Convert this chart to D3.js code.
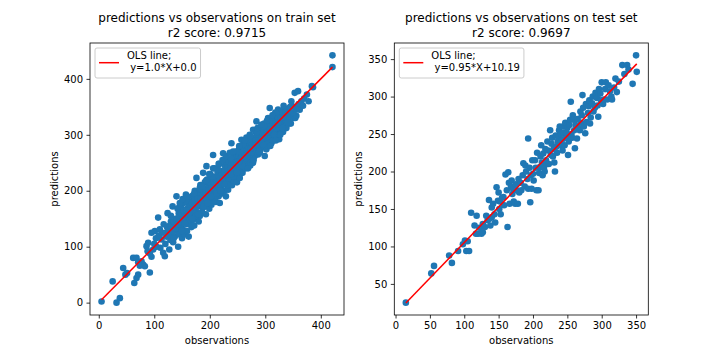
<!DOCTYPE html>
<html><head><meta charset="utf-8">
<script src="https://cdn.jsdelivr.net/npm/d3@7"></script>
<style>body{margin:0;background:#fff} text{font-family:"DejaVu Sans",sans-serif}</style>
</head><body><svg id="c" width="720" height="360"></svg>
<script>
// [observation, prediction]
const trainPoints = [
[5,2],[32,0],[38,8],[25,38],[44,62],[48,50],[51,53],[64,35],[68,44],[71,50],[62,80],[68,80],[77,74],[80,68],[83,65],[71,72],[74,66],[92,54],[86,101],[89,107],[98,95],[95,82],[95,125],[101,128],[107,152],[110,131],[113,113],[116,89],[119,83],[100,105],[104,100],[92,88],[88,92],[103,115],[108,120],[111,98],[114,125],[117,140],[120,105],[122,118],[124,160],[125,130],[127,95],[129,112],[130,145],[131,124],[133,172],[134,108],[136,138],[137,118],[139,150],[140,190],[141,128],[143,100],[144,160],[145,122],[146,140],[148,135],[149,170],[150,115],[151,152],[152,130],[153,178],[154,145],[155,122],[156,160],[157,193],[158,140],[159,128],[160,168],[161,150],[162,118],[163,182],[164,140],[165,155],[166,172],[167,135],[168,190],[169,160],[170,148],[171,178],[172,138],[173,200],[174,165],[175,152],[176,223],[177,185],[178,160],[179,172],[180,145],[181,198],[182,155],[183,210],[184,178],[185,190],[186,162],[187,170],[188,232],[189,200],[190,185],[191,215],[192,175],[193,158],[194,244],[195,205],[196,192],[197,180],[198,220],[199,168],[200,196],[200,210],[201,230],[202,185],[203,175],[204,215],[205,200],[206,264],[207,225],[208,188],[209,240],[210,205],[211,180],[212,218],[213,198],[214,232],[215,210],[216,190],[217,248],[218,178],[219,222],[220,205],[221,235],[222,195],[223,215],[224,267],[225,228],[226,200],[227,245],[228,212],[229,190],[230,238],[231,220],[232,205],[233,202],[234,255],[235,230],[236,215],[237,240],[238,225],[239,285],[240,210],[241,250],[242,232],[243,218],[244,262],[245,240],[246,225],[247,270],[248,235],[249,215],[250,255],[251,245],[252,228],[253,275],[254,223],[255,260],[256,240],[257,291],[258,250],[259,232],[260,270],[261,255],[262,240],[263,280],[264,265],[265,245],[266,295],[267,258],[268,275],[269,250],[270,285],[271,262],[272,300],[273,245],[274,270],[275,290],[276,258],[277,280],[278,250],[278,309],[279,268],[280,295],[281,262],[282,285],[283,305],[284,324],[285,270],[286,290],[287,265],[288,300],[289,280],[290,310],[291,272],[292,295],[293,285],[294,318],[295,278],[296,300],[297,290],[298,320],[299,282],[300,305],[301,295],[302,274],[303,315],[304,300],[305,330],[306,290],[307,310],[308,348],[309,300],[310,325],[311,285],[312,315],[313,305],[314,335],[315,295],[316,320],[317,310],[318,340],[319,300],[320,328],[321,315],[322,305],[323,345],[324,320],[325,292],[326,330],[327,310],[328,338],[329,318],[330,342],[331,322],[332,305],[333,335],[334,325],[335,345],[336,315],[337,330],[338,312],[340,338],[342,325],[344,335],[346,320],[347,360],[349,340],[351,330],[353,375],[354,330],[356,334],[357,350],[359,378],[360,355],[362,345],[365,360],[368,352],[370,365],[375,372],[378,360],[384,387],[386,385],[421,442],[421,421],
[120.5,125],[123,135],[126,120],[128,138],[131,135],[133,128],[135,145],[138,132],[140,150],[142,140],[145,152],[147,145],[150,158],[152,148],[155,165],[157,150],[160,158],[162,170],[165,162],[167,175],[170,165],[172,180],[175,170],[177,188],[180,175],[182,190],[185,180],[187,195],[190,188],[192,200],[195,185],[197,205],[200,192],[202,212],[205,198],[207,215],[210,200],[212,222],[215,208],[217,225],[220,215],[222,230],[225,218],[227,235],[230,225],[232,242],[235,228],[237,250],[240,235],[242,255],[245,238],[247,258],[250,245],[252,262],[255,248],[257,268],[260,252],[262,272],[265,258],[267,280],[270,262],[272,285],[275,268],[277,290],[280,275],[282,295],[285,278],[287,300],[290,285],[292,305],[295,290],[297,310],[300,295],[302,312],[305,298],[307,318],[310,305],[312,325],[315,308],[317,328],[320,312],[322,332],[325,318],[327,335],[330,325],[332,340],[335,328],[338,345],[340,332],[343,348],[345,338],[348,352],
[130,155],[135,115],[145,170],[150,128],[158,180],[163,148],[170,192],[175,155],[182,205],[188,170],[195,220],[198,178],[205,225],[210,188],[215,238],[220,198],[228,252],[232,210],[238,258],[243,225],[250,270],[255,232],[260,282],[265,240],[272,292],[278,258],[285,305],[290,268],[298,315],[302,282],[308,325],[314,290],[320,338],[326,300],[333,352],[339,318],
[142,168],[146,178],[151,185],[155,142],[159,190],[164,172],[168,150],[172,195],[176,180],[179,158],[183,192],[186,208],[189,172],[193,218],[196,178],[199,230],[203,190],[206,240],[209,215],[212,195],[216,248],[219,200],[223,255],[226,212],[229,262],[233,222],[236,268],[239,230],[242,270],[246,250],[249,232],[253,280],[256,258],[259,245],[263,290],[266,270],[269,240],[273,298],[276,282],[279,255],[283,290],[286,312],[289,270],[293,318],[296,282],[299,262],[303,325],[306,305],[309,280],[313,335],[316,300],[319,290],[323,330],[327,300],[331,312],[336,340],[341,322],[345,350],[350,340],[355,345],
[148,160],[153,165],[158,165],[163,160],[168,178],[173,182],[178,185],[183,185],[188,192],[193,195],[198,200],[203,205],[208,210],[213,215],[218,218],[223,222],[228,228],[233,235],[238,240],[243,245],[248,250],[253,252],[258,260],[263,262],[268,268],[273,275],[278,280],[283,282],[288,290],[293,292],[298,298],[303,305],[308,310],[313,315],[318,320],[323,322],[328,330],[333,332]
];
const testPoints = [
[15,25],[52,64],[56,74],[78,88],[82,78],[91,94],[98,103],[101,108],[103,94],[107,94],[105,107],[110,145],[115,128],[117,117],[118,141],[120,117],[122,125],[125,117],[127,119],[127,130],[130,126],[132,141],[134,135],[136,162],[137,137],[138,128],[140,139],[140,152],[142,157],[144,143],[145,132],[147,179],[149,161],[150,172],[151,150],[152,160],[153,143],[155,165],[157,166],[158,155],[160,196],[162,175],[163,126],[164,199],[165,185],[166,157],[168,180],[169,188],[170,170],[171,177],[172,160],[174,157],[175,183],[176,175],[178,157],[179,190],[180,172],[182,185],[183,175],[185,195],[186,211],[188,180],[189,208],[190,200],[192,190],[193,244],[193,177],[195,205],[196,159],[197,195],[198,177],[199,215],[200,197],[201,188],[203,215],[204,205],[205,175],[206,225],[208,175],[209,198],[210,206],[211,220],[212,235],[213,212],[214,195],[215,224],[216,205],[217,200],[218,230],[219,215],[220,210],[221,240],[222,228],[223,210],[225,255],[226,222],[227,237],[228,245],[229,220],[230,230],[231,212],[232,200],[233,248],[234,233],[235,225],[236,240],[237,246],[238,255],[239,260],[240,235],[241,250],[242,242],[243,228],[244,260],[245,252],[246,235],[247,265],[248,245],[249,251],[250,258],[251,222],[252,240],[253,262],[254,269],[255,293],[256,250],[257,245],[258,275],[259,269],[260,255],[261,231],[262,262],[264,244],[265,270],[266,258],[268,255],[269,280],[270,265],[271,275],[272,302],[273,285],[274,260],[276,251],[277,290],[278,266],[280,278],[281,287],[282,295],[283,264],[284,272],[286,291],[287,300],[288,280],[290,285],[291,305],[293,298],[294,288],[295,273],[296,310],[298,304],[299,295],[300,319],[302,290],[303,296],[305,310],[306,319],[308,296],[310,315],[312,307],[314,300],[315,296],[318,312],[320,324],[322,306],[325,320],[330,342],[333,330],[337,342],[339,336],[345,317],[350,355],[351,333]
];
const trainXTicks = [0,100,200,300,400];
const trainYTicks = [0,100,200,300,400];
const testXTicks = [0,50,100,150,200,250,300,350];
const testYTicks = [50,100,150,200,250,300,350];
const fitSlopes = [1.0, 0.95];
const fitIntercepts = [0.0, 10.19];
const titleLines = [
  ["predictions vs observations on train set", "r2 score: 0.9715"],
  ["predictions vs observations on test set", "r2 score: 0.9697"]
];
const legendLabels = ["OLS line;\n y=1.0*X+0.0", "OLS line;\n y=0.95*X+10.19"];
const xLabel = "observations", yLabel = "predictions";

const svg = d3.select("#c");

function panel(o) {
  const g = svg.append("g");
  const xs = o.points.map(d => d[0]), ys = o.points.map(d => d[1]);
  const [x0, x1] = d3.extent(xs), [y0, y1] = d3.extent(ys);
  const px = (x1 - x0) * 0.05, py = (y1 - y0) * 0.05;
  const x = d3.scaleLinear().domain([x0 - px, x1 + px]).range([o.left, o.right]);
  const y = d3.scaleLinear().domain([y0 - py, y1 + py]).range([o.bottom, o.top]);

  g.append("g").selectAll("circle").data(o.points).join("circle")
    .attr("cx", d => x(d[0])).attr("cy", d => y(d[1])).attr("r", 3.3)
    .attr("fill", "#1f77b4");

  const line = d3.line().x(d => x(d)).y(d => y(o.slope * d + o.intercept));
  g.append("path").datum([x0, x1]).attr("d", line)
    .attr("stroke", "#ff0000").attr("stroke-width", 1.5).attr("fill", "none");

  const ax = g.append("g").attr("transform", `translate(0,${o.bottom})`)
    .call(d3.axisBottom(x).tickValues(o.xTicks).tickSize(3.5).tickPadding(3.5).tickSizeOuter(0));
  const ay = g.append("g").attr("transform", `translate(${o.left},0)`)
    .call(d3.axisLeft(y).tickValues(o.yTicks).tickSize(3.5).tickPadding(3.5).tickSizeOuter(0));
  [ax, ay].forEach(a => {
    a.select(".domain").remove();
    a.selectAll(".tick line").attr("stroke", "#000").attr("stroke-width", 0.8);
    a.selectAll(".tick text").attr("fill", "#000").style("font-size", "10px")
      .style("font-family", '"DejaVu Sans",sans-serif');
  });

  g.append("rect").attr("x", o.left).attr("y", o.top)
    .attr("width", o.right - o.left).attr("height", o.bottom - o.top)
    .attr("fill", "none").attr("stroke", "#000").attr("stroke-width", 0.8);

  const cx = (o.left + o.right) / 2;
  g.append("text").attr("x", cx).attr("y", 22.3).attr("text-anchor", "middle")
    .style("font-size", "12px").text(o.title[0]);
  g.append("text").attr("x", cx).attr("y", 36.7).attr("text-anchor", "middle")
    .style("font-size", "12px").text(o.title[1]);
  g.append("text").attr("x", cx).attr("y", 344).attr("text-anchor", "middle")
    .style("font-size", "10px").text(xLabel);
  g.append("text").attr("transform", `translate(${o.ylabX},${(o.top + o.bottom) / 2}) rotate(-90)`)
    .attr("text-anchor", "middle").style("font-size", "10px").text(yLabel);

  // legend
  const lx = o.left + 5, ly = o.top + 5;
  const lg = g.append("g");
  const rect = lg.append("rect");
  const lines = o.legend.split("\n");
  let maxW = 0;
  lines.forEach((s, i) => {
    const t = lg.append("text").attr("x", lx + 32).attr("y", ly + 11 + i * 12)
      .style("font-size", "10px").style("white-space", "pre").text(s);
    maxW = Math.max(maxW, t.node().getComputedTextLength());
  });
  rect.attr("x", lx).attr("y", ly).attr("width", maxW + 36).attr("height", 30)
    .attr("rx", 2).attr("fill", "#fff").attr("fill-opacity", 0.8)
    .attr("stroke", "#cccccc").attr("stroke-width", 1);
  lg.append("line").attr("x1", lx + 4).attr("x2", lx + 24)
    .attr("y1", ly + 14.7).attr("y2", ly + 14.7)
    .attr("stroke", "#ff0000").attr("stroke-width", 1.5);
}

panel({points: trainPoints, left: 90, right: 344, top: 43, bottom: 315,
  xTicks: trainXTicks, yTicks: trainYTicks, slope: fitSlopes[0], intercept: fitIntercepts[0],
  title: titleLines[0], legend: legendLabels[0], ylabX: 58});
panel({points: testPoints, left: 394.3, right: 648.3, top: 43, bottom: 315,
  xTicks: testXTicks, yTicks: testYTicks, slope: fitSlopes[1], intercept: fitIntercepts[1],
  title: titleLines[1], legend: legendLabels[1], ylabX: 362});
</script></body></html>
